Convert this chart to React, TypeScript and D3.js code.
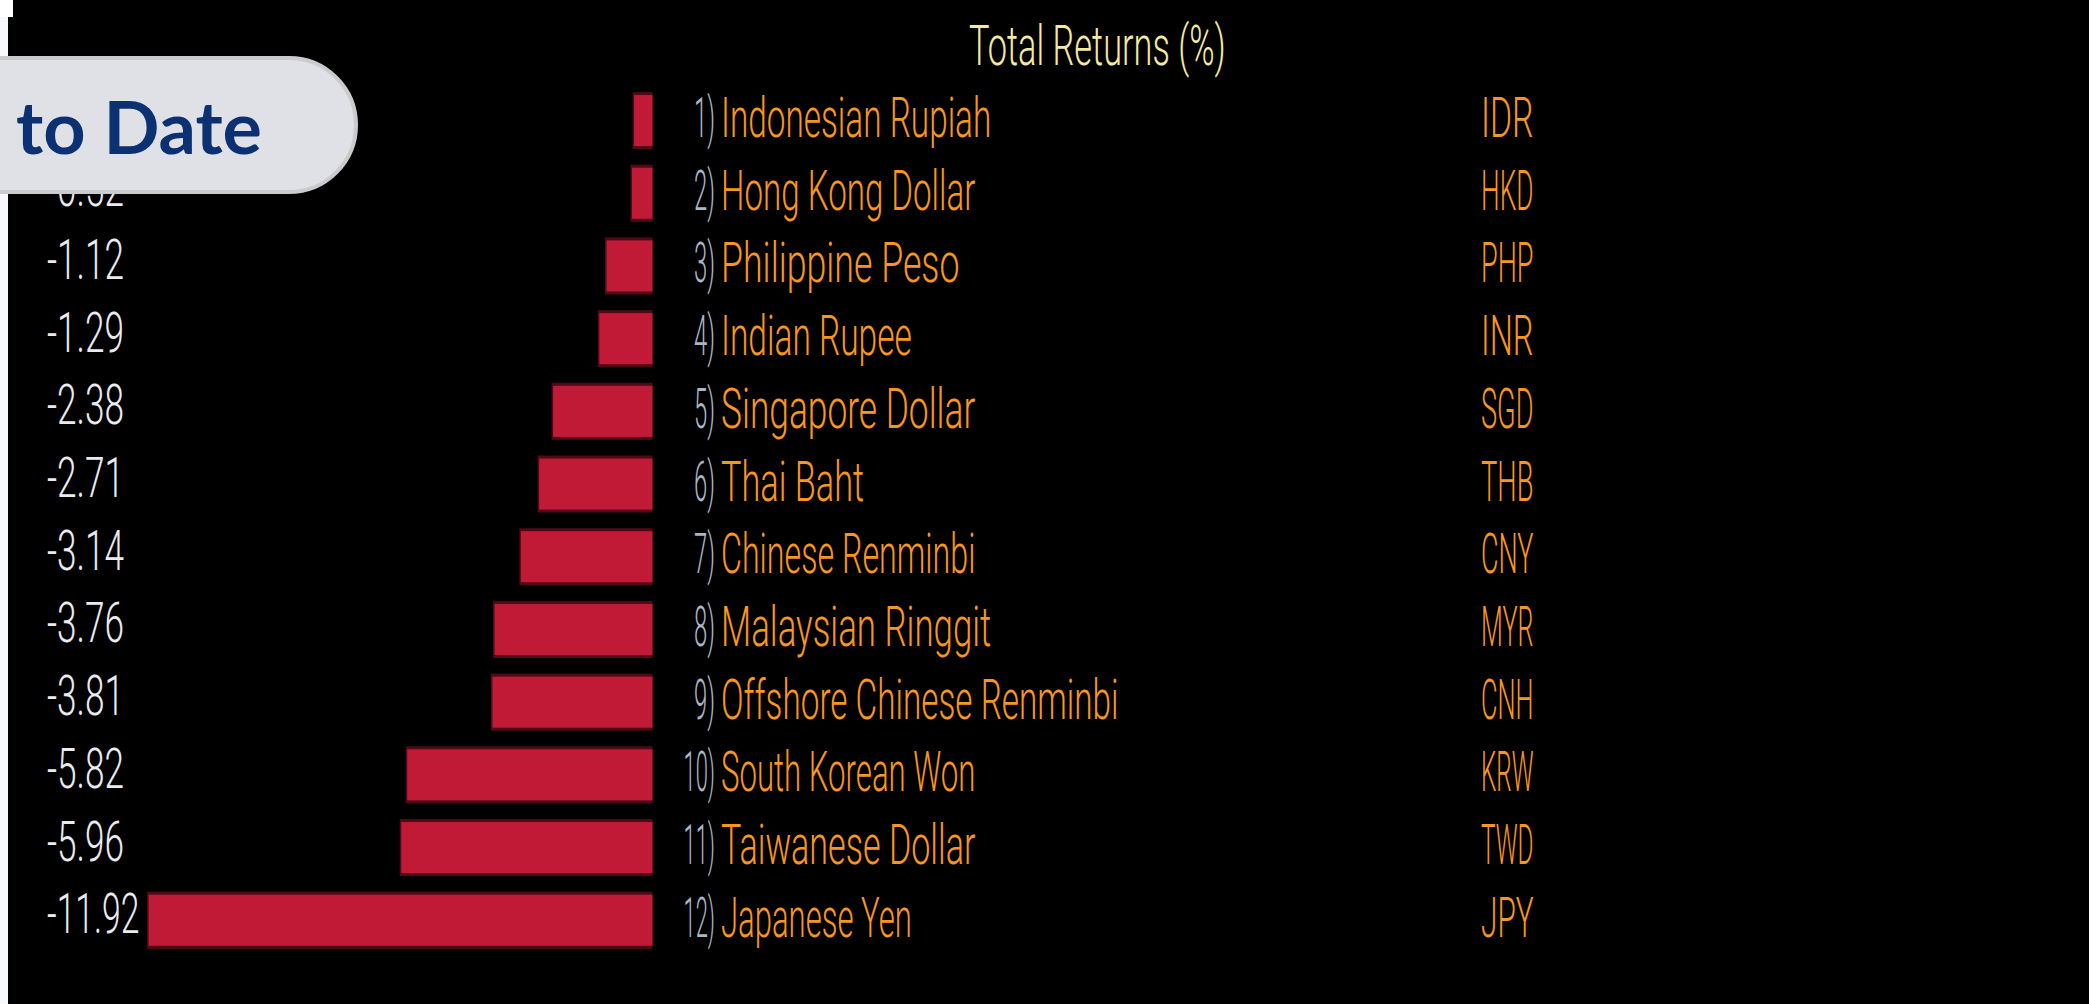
import React from "react";
import * as d3 from "d3";

const currencies = [
  "Indonesian Rupiah",
  "Hong Kong Dollar",
  "Philippine Peso",
  "Indian Rupee",
  "Singapore Dollar",
  "Thai Baht",
  "Chinese Renminbi",
  "Malaysian Ringgit",
  "Offshore Chinese Renminbi",
  "South Korean Won",
  "Taiwanese Dollar",
  "Japanese Yen",
];
const codes = ["IDR", "HKD", "PHP", "INR", "SGD", "THB", "CNY", "MYR", "CNH", "KRW", "TWD", "JPY"];
const returns = [-0.47, -0.52, -1.12, -1.29, -2.38, -2.71, -3.14, -3.76, -3.81, -5.82, -5.96, -11.92];
const titleText = "Total Returns (%)";
const badgeText = "to Date";

const W = 2089;
const H = 1004;

const fmt = d3
  .formatLocale({ decimal: ".", thousands: ",", grouping: [3], currency: ["$", ""], minus: "-" })
  .format(".2f");

const FONT = "Roboto, 'Liberation Sans', 'DejaVu Sans', sans-serif";
const FW = 300;

export default function App() {
  const y = d3
    .scaleBand<string>()
    .domain(currencies)
    .range([84.2, 956.6])
    .paddingInner(0.215)
    .paddingOuter(0.1075);
  const x = d3.scaleLinear().domain([-12, 0]).range([143.7, 652.5]);

  const bw = y.bandwidth();

  return (
    <div style={{ position: "fixed", left: 0, top: 0, width: W, height: H, overflow: "hidden" }}>
      <svg width={W} height={H} style={{ display: "block" }}>
        <rect x={0} y={0} width={W} height={H} fill="#000" />
        <rect x={0} y={0} width={8} height={H} fill="#f7f8fb" />
        <rect x={0} y={0} width={13} height={17} fill="#ffffff" />

        <text
          x={969}
          y={65}
          fill="#f3eaa2"
          fontFamily={FONT}
          fontWeight={FW}
          fontSize={56}
          textLength={titleText.length * 15.1}
          lengthAdjust="spacingAndGlyphs"
        >
          {titleText}
        </text>

        {currencies.map((c, i) => {
          const v = returns[i];
          const yc = (y(c) as number) + bw / 2;
          const x0 = x(Math.min(0, v));
          const x1 = x(Math.max(0, v));
          const num = `${i + 1})`;
          const val = fmt(v);
          const numLen = num.length * 10.5;
          return (
            <g key={c}>
              <rect x={x0} y={y(c)} width={x1 - x0} height={bw} fill="#4e0b17" />
              <rect x={x0 + 1.5} y={(y(c) as number) + 3} width={x1 - x0 - 1.5} height={bw - 6} fill="#c01a37" />
              <text
                x={47}
                y={yc + 13}
                fill="#e9ebf0"
                fontFamily={FONT}
                fontWeight={FW}
                fontSize={56}
                textLength={val.length * 15.4}
                lengthAdjust="spacingAndGlyphs"
              >
                {val}
              </text>
              <text
                x={715 - numLen}
                y={yc + 16.5}
                fill="#a9b6c4"
                fontFamily={FONT}
                fontWeight={FW}
                fontSize={56}
                textLength={numLen}
                lengthAdjust="spacingAndGlyphs"
              >
                {num}
              </text>
              <text
                x={721}
                y={yc + 16.5}
                fill="#f8961f"
                fontFamily={FONT}
                fontWeight={FW}
                fontSize={56}
                textLength={c.length * 15.9}
                lengthAdjust="spacingAndGlyphs"
              >
                {c}
              </text>
              <text
                x={1481}
                y={yc + 16.5}
                fill="#f8961f"
                fontFamily={FONT}
                fontWeight={FW}
                fontSize={56}
                textLength={codes[i].length * 17.5}
                lengthAdjust="spacingAndGlyphs"
              >
                {codes[i]}
              </text>
            </g>
          );
        })}

        <rect x={-120} y={58} width={476} height={134} rx={67} ry={67} fill="#e0e1e6" stroke="#cbcbcd" strokeWidth={4} />
        <text
          x={16}
          y={154}
          fill="#0b3172"
          fontFamily="Lato, 'Open Sans', sans-serif"
          fontWeight={700}
          fontSize={72}
          textLength={246}
          lengthAdjust="spacingAndGlyphs"
        >
          {badgeText}
        </text>
      </svg>
    </div>
  );
}
